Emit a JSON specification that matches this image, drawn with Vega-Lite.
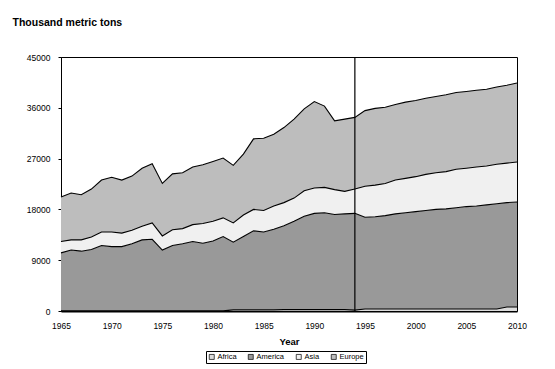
{
  "$schema": "https://vega.github.io/schema/vega-lite/v6.json",
  "width": 456,
  "height": 254,
  "autosize": "none",
  "padding": {"left": 61, "top": 57, "right": 38, "bottom": 58},
  "background": "white",
  "view": {"stroke": "black", "strokeWidth": 1},
  "config": {
    "font": "Liberation Sans",
    "view": {"stroke": "black", "strokeWidth": 1},
    "axis": {"grid": false, "domainColor": "black", "tickColor": "black", "labelColor": "black", "titleColor": "black", "labelFont": "Liberation Sans", "titleFont": "Liberation Sans"}
  },
  "data": {
    "values": [
      {"Year": 1965, "Africa": 30, "America": 10270, "Asia": 2000, "Europe": 7900},
      {"Year": 1966, "Africa": 30, "America": 10770, "Asia": 1800, "Europe": 8300},
      {"Year": 1967, "Africa": 30, "America": 10570, "Asia": 2000, "Europe": 8000},
      {"Year": 1968, "Africa": 30, "America": 10870, "Asia": 2200, "Europe": 8500},
      {"Year": 1969, "Africa": 30, "America": 11570, "Asia": 2400, "Europe": 9200},
      {"Year": 1970, "Africa": 30, "America": 11370, "Asia": 2600, "Europe": 9700},
      {"Year": 1971, "Africa": 30, "America": 11370, "Asia": 2400, "Europe": 9400},
      {"Year": 1972, "Africa": 30, "America": 11870, "Asia": 2400, "Europe": 9600},
      {"Year": 1973, "Africa": 30, "America": 12570, "Asia": 2400, "Europe": 10300},
      {"Year": 1974, "Africa": 30, "America": 12670, "Asia": 2900, "Europe": 10500},
      {"Year": 1975, "Africa": 30, "America": 10770, "Asia": 2500, "Europe": 9300},
      {"Year": 1976, "Africa": 30, "America": 11570, "Asia": 2800, "Europe": 9900},
      {"Year": 1977, "Africa": 30, "America": 11870, "Asia": 2700, "Europe": 9900},
      {"Year": 1978, "Africa": 30, "America": 12270, "Asia": 3000, "Europe": 10200},
      {"Year": 1979, "Africa": 30, "America": 11970, "Asia": 3500, "Europe": 10400},
      {"Year": 1980, "Africa": 30, "America": 12370, "Asia": 3500, "Europe": 10600},
      {"Year": 1981, "Africa": 30, "America": 13170, "Asia": 3300, "Europe": 10600},
      {"Year": 1982, "Africa": 200, "America": 12000, "Asia": 3400, "Europe": 10200},
      {"Year": 1983, "Africa": 200, "America": 13000, "Asia": 3800, "Europe": 10800},
      {"Year": 1984, "Africa": 200, "America": 14000, "Asia": 3800, "Europe": 12500},
      {"Year": 1985, "Africa": 200, "America": 13800, "Asia": 3800, "Europe": 12800},
      {"Year": 1986, "Africa": 200, "America": 14300, "Asia": 4100, "Europe": 12700},
      {"Year": 1987, "Africa": 250, "America": 14850, "Asia": 4100, "Europe": 13300},
      {"Year": 1988, "Africa": 250, "America": 15650, "Asia": 4100, "Europe": 14000},
      {"Year": 1989, "Africa": 250, "America": 16550, "Asia": 4500, "Europe": 14500},
      {"Year": 1990, "Africa": 250, "America": 17050, "Asia": 4500, "Europe": 15300},
      {"Year": 1991, "Africa": 250, "America": 17150, "Asia": 4500, "Europe": 14400},
      {"Year": 1992, "Africa": 250, "America": 16850, "Asia": 4400, "Europe": 12200},
      {"Year": 1993, "Africa": 250, "America": 16950, "Asia": 4000, "Europe": 12800},
      {"Year": 1994, "Africa": 150, "America": 17150, "Asia": 4300, "Europe": 12700},
      {"Year": 1995, "Africa": 350, "America": 16250, "Asia": 5500, "Europe": 13400},
      {"Year": 1996, "Africa": 350, "America": 16350, "Asia": 5600, "Europe": 13600},
      {"Year": 1997, "Africa": 350, "America": 16550, "Asia": 5700, "Europe": 13500},
      {"Year": 1998, "Africa": 350, "America": 16850, "Asia": 6000, "Europe": 13400},
      {"Year": 1999, "Africa": 350, "America": 17050, "Asia": 6100, "Europe": 13500},
      {"Year": 2000, "Africa": 350, "America": 17250, "Asia": 6200, "Europe": 13500},
      {"Year": 2001, "Africa": 350, "America": 17450, "Asia": 6400, "Europe": 13500},
      {"Year": 2002, "Africa": 350, "America": 17650, "Asia": 6500, "Europe": 13500},
      {"Year": 2003, "Africa": 350, "America": 17750, "Asia": 6600, "Europe": 13600},
      {"Year": 2004, "Africa": 350, "America": 17950, "Asia": 6800, "Europe": 13600},
      {"Year": 2005, "Africa": 350, "America": 18150, "Asia": 6800, "Europe": 13600},
      {"Year": 2006, "Africa": 350, "America": 18250, "Asia": 6900, "Europe": 13600},
      {"Year": 2007, "Africa": 350, "America": 18450, "Asia": 6900, "Europe": 13600},
      {"Year": 2008, "Africa": 350, "America": 18650, "Asia": 7000, "Europe": 13700},
      {"Year": 2009, "Africa": 700, "America": 18500, "Asia": 7000, "Europe": 13800},
      {"Year": 2010, "Africa": 700, "America": 18600, "Asia": 7100, "Europe": 14000}
    ]
  },
  "transform": [
    {"fold": ["Africa", "America", "Asia", "Europe"], "as": ["Region", "Value"]},
    {"stack": "Value", "groupby": ["Year"], "sort": [{"field": "Region", "order": "ascending"}], "as": ["v0", "v1"]}
  ],
  "layer": [
    {
      "mark": {"type": "area"},
      "encoding": {
        "x": {
          "field": "Year", "type": "quantitative",
          "scale": {"domain": [1965, 2010], "nice": false, "zero": false},
          "axis": {
            "values": [1965, 1970, 1975, 1980, 1985, 1990, 1995, 2000, 2005, 2010],
            "format": "d", "ticks": false, "labelPadding": 10, "labelFontSize": 8.5, "labelFlush": false,
            "domainWidth": 2,
            "title": "Year", "titleFontSize": 9.5, "titleFontWeight": "bold", "titleY": 30, "titleBaseline": "middle"
          }
        },
        "y": {
          "field": "v1", "type": "quantitative",
          "scale": {"domain": [0, 45000], "nice": false},
          "axis": {
            "values": [0, 9000, 18000, 27000, 36000, 45000],
            "format": "d", "tickSize": 3, "labelPadding": 8, "labelFontSize": 8.5, "labelFlush": false,
            "title": "Thousand metric tons", "titleAngle": 0, "titleX": -49, "titleY": -35,
            "titleAlign": "left", "titleBaseline": "middle", "titleFontSize": 10.5, "titleFontWeight": "bold"
          }
        },
        "y2": {"field": "v0"},
        "color": {
          "field": "Region", "type": "nominal",
          "scale": {"domain": ["Africa", "America", "Asia", "Europe"], "range": ["#dcdcdc", "#999999", "#f0f0f0", "#bdbdbd"]},
          "legend": {
            "title": null, "orient": "none", "legendX": 145, "legendY": 294, "direction": "horizontal", "columns": 4,
            "symbolType": "square", "symbolSize": 25, "symbolStrokeColor": "black", "symbolStrokeWidth": 0.7,
            "labelFontSize": 7.5, "labelColor": "black", "labelOffset": 2, "columnPadding": 9,
            "padding": 2, "strokeColor": "black", "fillColor": "white"
          }
        }
      }
    },
    {
      "mark": {"type": "line", "color": "black", "strokeWidth": 1.1},
      "encoding": {
        "x": {"field": "Year", "type": "quantitative"},
        "y": {"field": "v1", "type": "quantitative"},
        "detail": {"field": "Region", "type": "nominal"}
      }
    },
    {
      "data": {"values": [{"Year": 1994}]},
      "mark": {"type": "rule", "color": "black", "strokeWidth": 1.2},
      "encoding": {"x": {"field": "Year", "type": "quantitative"}}
    }
  ]
}
